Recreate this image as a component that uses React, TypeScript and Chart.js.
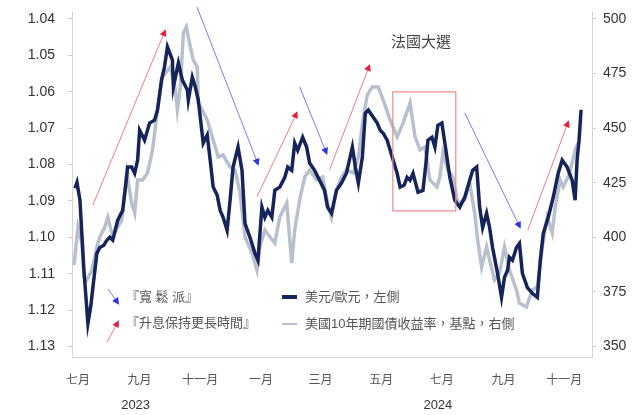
import React, { useEffect, useRef } from 'react';
import { Chart, registerables } from 'chart.js';

Chart.register(...registerables);

// days since 2023-07-01
const eurusdDays = [-3,-1,2,6,10,13,15,19,22,26,29,32,35,40,45,48,50,54,57,60,62,67,72,77,80,84,87,90,95,96,101,105,110,111,115,118,121,123,126,130,133,136,140,143,146,150,153,156,161,165,168,173,178,181,185,188,191,195,198,203,208,211,215,218,221,226,230,233,238,243,248,251,255,260,265,270,276,279,282,286,289,292,297,301,304,307,311,314,321,324,328,331,334,337,342,347,350,352,356,359,362,366,369,374,379,384,389,394,397,401,404,407,411,414,417,422,426,429,432,434,437,441,444,447,452,457,462,465,468,473,478,483,487,492,497,500,502,504,506];
const eurusd = [1.0865,1.0849,1.0898,1.1091,1.1237,1.1187,1.1138,1.1044,1.1028,1.1022,1.1008,1.1000,1.1008,1.0953,1.0926,1.0857,1.0807,1.0807,1.0824,1.0788,1.0706,1.0733,1.0686,1.0678,1.0650,1.0568,1.0532,1.0477,1.0513,1.0587,1.0521,1.0568,1.0595,1.0623,1.0560,1.0587,1.0623,1.0670,1.0741,1.0719,1.0788,1.0862,1.0884,1.0926,1.0945,1.0981,1.0898,1.0807,1.0752,1.0816,1.0962,1.1000,1.1044,1.1063,1.0917,1.0945,1.0926,1.0945,1.0871,1.0862,1.0835,1.0807,1.0816,1.0741,1.0761,1.0725,1.0752,1.0796,1.0816,1.0843,1.0871,1.0917,1.0934,1.0871,1.0851,1.0824,1.0752,1.0807,1.0851,1.0780,1.0659,1.0650,1.0670,1.0686,1.0706,1.0714,1.0733,1.0761,1.0824,1.0862,1.0857,1.0835,1.0843,1.0824,1.0876,1.0871,1.0796,1.0733,1.0725,1.0752,1.0692,1.0686,1.0741,1.0835,1.0898,1.0917,1.0890,1.0843,1.0816,1.0807,1.0917,1.0973,1.0934,1.0973,1.1028,1.1099,1.1165,1.1110,1.1091,1.1055,1.1063,1.1028,1.1017,1.1099,1.1138,1.1154,1.1165,1.1063,1.0989,1.0945,1.0890,1.0824,1.0788,1.0807,1.0843,1.0898,1.0788,1.0733,1.0650];

const ust10yDays = [-4,0,4,6,9,14,19,22,27,30,35,40,44,49,54,57,60,65,70,75,80,85,93,98,100,103,106,109,113,116,120,121,125,130,136,141,146,153,158,163,168,175,180,183,188,193,198,203,210,215,218,223,228,233,240,246,251,255,260,265,270,277,282,287,291,296,302,307,314,321,327,334,339,344,349,354,361,364,367,372,377,382,389,394,399,402,406,411,414,419,424,429,434,441,444,451,457,462,467,472,477,480,485,488,493,497,500,503];
const ust10y = [387.3,404.7,397.4,381.8,380.5,385.0,395.6,400.2,404.7,409.3,400.2,404.7,407.9,429.5,415.7,411.1,426.3,426.3,429.5,440.0,458.3,473.4,478.0,467.5,458.3,468.9,493.6,496.3,487.2,481.2,478.0,461.5,458.3,453.7,444.6,436.8,437.7,432.2,430.8,420.3,400.2,392.8,385.0,395.6,403.4,400.2,397.4,409.3,415.7,388.2,403.4,417.1,427.6,430.8,426.3,427.6,415.7,409.3,421.7,427.6,430.8,429.5,436.8,455.1,465.2,468.9,468.9,462.9,453.7,446.0,452.4,461.5,446.0,440.0,441.4,426.3,423.1,427.6,438.6,430.8,427.6,415.7,417.1,424.9,411.1,398.8,386.4,395.6,389.6,380.5,383.7,395.6,385.0,375.9,369.9,368.1,375.9,377.3,395.6,409.3,402.0,413.9,426.3,423.1,427.6,434.0,440.0,443.2];

const tickDays = [0, 62, 123, 184, 244, 305, 366, 428, 489];
const monthLabels = ['七月', '九月', '十一月', '一月', '三月', '五月', '七月', '九月', '十一月'];
const yearLabels = ['', '2023', '', '', '', '', '2024', '', ''];
const leftTicks = [1.04, 1.05, 1.06, 1.07, 1.08, 1.09, 1.10, 1.11, 1.12, 1.13];
const rightTicks = [350, 375, 400, 425, 450, 475, 500];

// annotation arrows: [startDay, startBp, endDay, endBp] on right axis
const higherForLongerArrows = [
  [15, 414.8, 87.5, 494.5],
  [180, 418.5, 220, 456.9],
  [253, 430.8, 293, 478.5],
  [452.5, 403.4, 493, 452.8],
];
const easingArrows = [
  [119.7, 505.5, 181, 433.6],
  [223, 468.9, 250, 438.6],
  [389, 457, 444.4, 404.7],
];
const electionBox = [316.7, 466.6, 380, 412.1];
const electionTitle = '法國大選';
const electionTitleAnchor = [345, 489];

const legendEasing = '『寬 鬆 派』';
const legendHFL = '『升息保持更長時間』';
const legendEur = '美元/歐元，左側';
const legendUst = '美國10年期國債收益率，基點，右側';

const FONT = "'Liberation Sans', 'Noto Sans CJK TC', sans-serif";
const NAVY = '#15245a';
const GRAY = '#b8bfcd';
const RED_LINE = '#f2788a';
const RED_HEAD = '#e8203c';
const BLUE_LINE = '#7a7af2';
const BLUE_HEAD = '#2b33e6';

function drawArrow(ctx: CanvasRenderingContext2D, x1: number, y1: number, x2: number, y2: number, lineColor: string, headColor: string) {
  ctx.save();
  ctx.strokeStyle = lineColor;
  ctx.lineWidth = 1;
  ctx.beginPath();
  ctx.moveTo(x1, y1);
  ctx.lineTo(x2, y2);
  ctx.stroke();
  const ang = Math.atan2(y2 - y1, x2 - x1);
  const L = 7;
  const W = 3.5;
  const tx = x2 + Math.cos(ang) * 2;
  const ty = y2 + Math.sin(ang) * 2;
  const bx = tx - Math.cos(ang) * L;
  const by = ty - Math.sin(ang) * L;
  ctx.fillStyle = headColor;
  ctx.beginPath();
  ctx.moveTo(tx, ty);
  ctx.lineTo(bx - Math.sin(ang) * W, by + Math.cos(ang) * W);
  ctx.lineTo(bx + Math.sin(ang) * W, by - Math.cos(ang) * W);
  ctx.closePath();
  ctx.fill();
  ctx.restore();
}

const annotationPlugin = {
  id: 'annotations',
  afterDraw(chart: any) {
    const ctx: CanvasRenderingContext2D = chart.ctx;
    const xs = chart.scales.x;
    const yr = chart.scales.yR;
    const px = (d: number) => xs.getPixelForValue(d);
    const py = (v: number) => yr.getPixelForValue(v);
    for (const a of higherForLongerArrows) drawArrow(ctx, px(a[0]), py(a[1]), px(a[2]), py(a[3]), RED_LINE, RED_HEAD);
    for (const a of easingArrows) drawArrow(ctx, px(a[0]), py(a[1]), px(a[2]), py(a[3]), BLUE_LINE, BLUE_HEAD);

    ctx.save();
    ctx.strokeStyle = '#f08a8a';
    ctx.lineWidth = 1.2;
    const bx1 = px(electionBox[0]), by1 = py(electionBox[1]);
    const bx2 = px(electionBox[2]), by2 = py(electionBox[3]);
    ctx.strokeRect(bx1, by1, bx2 - bx1, by2 - by1);
    ctx.fillStyle = '#444';
    ctx.font = `15px ${FONT}`;
    ctx.textAlign = 'center';
    ctx.textBaseline = 'middle';
    ctx.fillText(electionTitle, px(electionTitleAnchor[0]), py(electionTitleAnchor[1]));

    // year labels under month ticks
    ctx.fillStyle = '#333';
    ctx.font = `13px ${FONT}`;
    yearLabels.forEach((y, i) => {
      if (y) ctx.fillText(y, px(tickDays[i]) - 4, chart.chartArea.bottom + 48);
    });
    ctx.restore();

    // legend
    const L = chart.chartArea.left;
    const B = chart.chartArea.bottom;
    const r1 = B - 60;
    const r2 = B - 34;
    drawArrow(ctx, L + 36, r1 - 8, L + 46, r1 + 6, BLUE_LINE, BLUE_HEAD);
    drawArrow(ctx, L + 35, r2 + 19, L + 46, r2 - 1, RED_LINE, RED_HEAD);
    ctx.save();
    ctx.font = `13px ${FONT}`;
    ctx.fillStyle = '#555';
    ctx.textAlign = 'left';
    ctx.textBaseline = 'middle';
    ctx.fillText(legendEasing, L + 54, r1);
    ctx.fillText(legendHFL, L + 54, r2);
    ctx.fillText(legendEur, L + 233, r1);
    ctx.fillText(legendUst, L + 233, r2 + 1);
    ctx.lineCap = 'butt';
    ctx.strokeStyle = NAVY;
    ctx.lineWidth = 4;
    ctx.beginPath();
    ctx.moveTo(L + 210, r1);
    ctx.lineTo(L + 225, r1);
    ctx.stroke();
    ctx.strokeStyle = GRAY;
    ctx.lineWidth = 2;
    ctx.beginPath();
    ctx.moveTo(L + 210, r2 + 1);
    ctx.lineTo(L + 225, r2 + 1);
    ctx.stroke();
    ctx.restore();
  },
};

export default function App() {
  const ref = useRef<HTMLCanvasElement | null>(null);
  useEffect(() => {
    if (!ref.current) return;
    const chart = new Chart(ref.current, {
      type: 'line',
      data: {
        datasets: [
          {
            label: legendEur,
            data: eurusdDays.map((d, i) => ({ x: d, y: eurusd[i] })),
            borderColor: NAVY,
            borderWidth: 3.5,
            pointRadius: 0,
            tension: 0,
            yAxisID: 'yL',
          },
          {
            label: legendUst,
            data: ust10yDays.map((d, i) => ({ x: d, y: ust10y[i] })),
            borderColor: GRAY,
            borderWidth: 3.5,
            pointRadius: 0,
            tension: 0,
            yAxisID: 'yR',
          },
        ],
      },
      options: {
        animation: false,
        responsive: false,
        devicePixelRatio: 1,
        layout: { padding: { top: 12, left: 0, right: 0, bottom: 0 } },
        plugins: { legend: { display: false }, tooltip: { enabled: false }, title: { display: false } },
        scales: {
          x: {
            type: 'linear',
            min: -6,
            max: 517,
            grid: { display: false, drawTicks: false },
            border: { display: true, color: '#d4d4d4' },
            afterBuildTicks: (s: any) => { s.ticks = tickDays.map((v) => ({ value: v })); },
            afterFit: (s: any) => { s.height = 58; s.paddingLeft = 0; s.paddingRight = 0; },
            ticks: {
              autoSkip: false,
              maxRotation: 0,
              padding: 12,
              color: '#555',
              font: { family: FONT, size: 12, lineHeight: 2 },
              callback: (_v: any, i: number) => monthLabels[i],
            },
          },
          yL: {
            type: 'linear',
            position: 'left',
            reverse: true,
            min: 1.03808,
            max: 1.13289,
            grid: { drawOnChartArea: false, drawTicks: true, tickLength: 4, color: '#cccccc' },
            border: { display: true, color: '#d4d4d4' },
            afterBuildTicks: (s: any) => { s.ticks = leftTicks.map((v) => ({ value: v })); },
            afterFit: (s: any) => { s.width = 72; s.paddingTop = 0; s.paddingBottom = 0; },
            ticks: {
              padding: 13,
              color: '#333',
              font: { family: FONT, size: 14 },
              callback: (v: any) => Number(v).toFixed(2),
            },
          },
          yR: {
            type: 'linear',
            position: 'right',
            min: 345.19,
            max: 503.2,
            grid: { drawOnChartArea: false, drawTicks: true, tickLength: 4, color: '#cccccc' },
            border: { display: true, color: '#d4d4d4' },
            afterBuildTicks: (s: any) => { s.ticks = rightTicks.map((v) => ({ value: v })); },
            afterFit: (s: any) => { s.width = 40; s.paddingTop = 0; s.paddingBottom = 0; },
            ticks: {
              padding: 7,
              color: '#333',
              font: { family: FONT, size: 14 },
              callback: (v: any) => String(v),
            },
          },
        },
      } as any,
      plugins: [annotationPlugin],
    });
    return () => chart.destroy();
  }, []);
  return (
    <div style={{ position: 'absolute', left: 0, top: 0, width: 632, height: 415, background: '#fff' }}>
      <canvas ref={ref} width={632} height={415} style={{ display: 'block', width: 632, height: 415 }} />
    </div>
  );
}
